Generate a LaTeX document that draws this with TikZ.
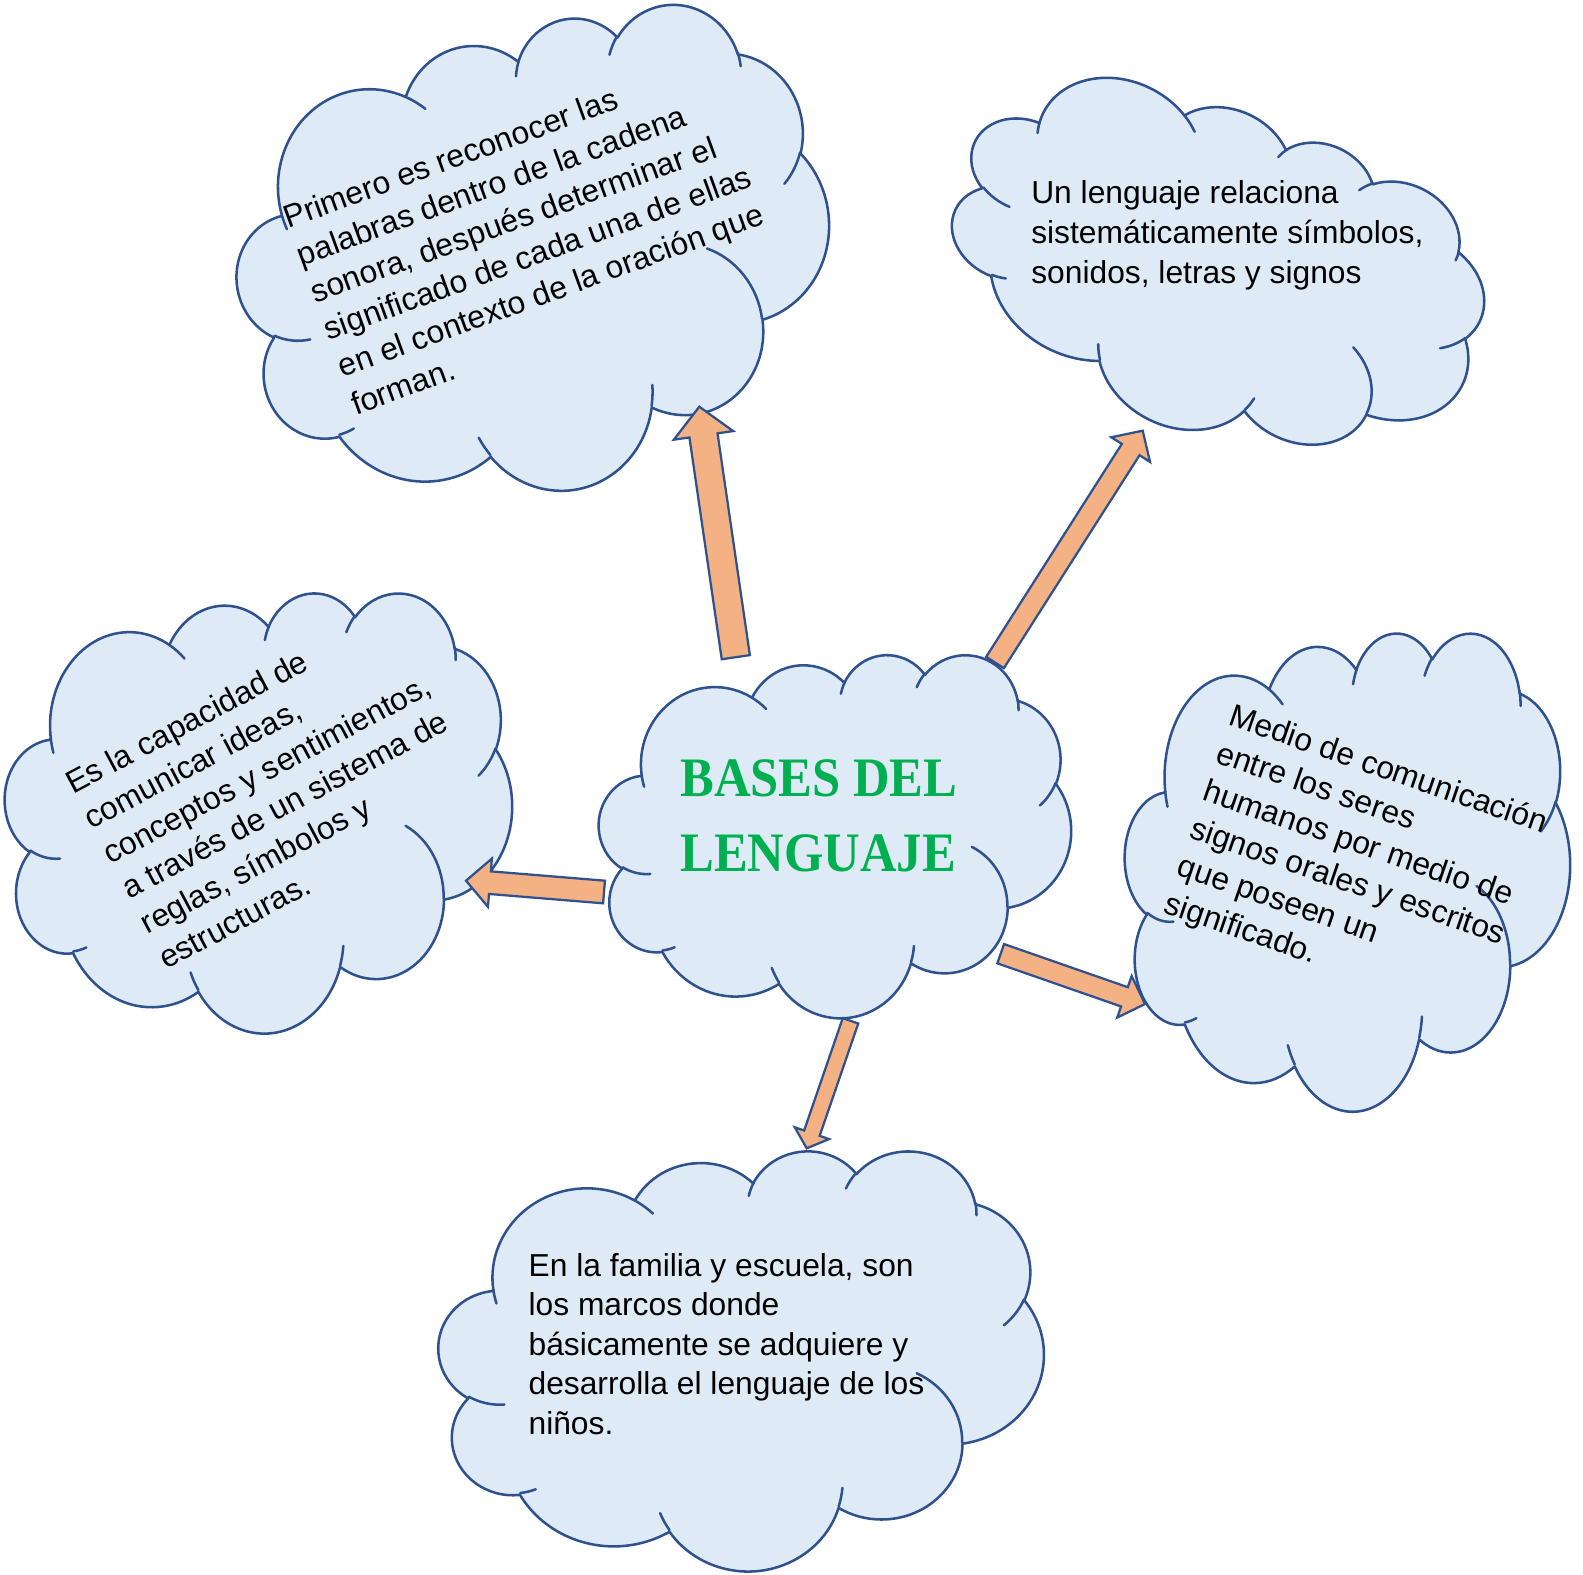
\documentclass[tikz,border=0pt]{standalone}
\usepackage{fontspec}
\setmainfont{Liberation Sans}
\newfontfamily\ttlfont{Liberation Serif}
\usetikzlibrary{calc}
\definecolor{cldfill}{HTML}{DEEBF7}
\definecolor{cldline}{HTML}{2F528F}
\definecolor{arrfill}{HTML}{F4B183}
\definecolor{ttlgreen}{HTML}{00B050}

% elliptical arc with DrawingML (visual) angles
\newcommand\cldarc[4]{arc[x radius=#1, y radius=#2, start angle={vis(#1,#2,#3)}, end angle={vis(#1,#2,#4)}]}

% cloud: centre x, centre y (px, downwards), width, height, rotation
\newcommand\cloudshape[5]{%
  \begin{scope}[shift={(#1,-#2)}, rotate=#5, xscale=#3/43.2, yscale=-#4/43.2, shift={(-21.6,-21.6)}]
    \filldraw[cloudbody] (3.9,14.37)
      \cldarc{6.753}{9.190}{-190.4875}{-66.7070}
      \cldarc{5.333}{7.267}{-144.1024}{-54.1572}
      \cldarc{4.365}{5.945}{-145.8079}{-46.0849}
      \cldarc{4.857}{6.595}{-130.9861}{-13.7444}
      \cldarc{5.333}{7.273}{-78.7089}{30.3180}
      \cldarc{6.775}{9.220}{-46.2673}{84.0017}
      \cldarc{5.785}{7.867}{0.6250}{114.6583}
      \cldarc{6.752}{9.215}{22.4516}{137.6242}
      \cldarc{7.720}{10.543}{66.2426}{141.9536}
      \cldarc{4.360}{5.918}{-274.9421}{-128.2065}
      \cldarc{4.345}{5.945}{-246.8285}{-94.3096} -- cycle;
    \draw[cloudline]
      (4.693,26.177) \cldarc{4.345}{5.945}{86.7420}{113.1715}
      (6.928,34.899) \cldarc{4.360}{5.918}{73.6105}{85.0579}
      (16.478,39.090) \cldarc{6.752}{9.215}{137.6242}{151.7053}
      (28.827,34.751) \cldarc{6.752}{9.215}{6.4533}{22.4516}
      (34.129,22.954) \cldarc{5.785}{7.867}{-70.2924}{0.6250}
      (41.798,15.354) \cldarc{5.333}{7.273}{30.3180}{58.0695}
      (38.324,5.426) \cldarc{4.857}{6.595}{-13.7443}{1.1146}
      (29.078,3.952) \cldarc{4.857}{6.595}{-149.1815}{-130.9861}
      (22.141,4.720) \cldarc{4.365}{5.945}{-163.4943}{-145.8079}
      (14.000,5.192) \cldarc{6.753}{9.190}{-66.7070}{-54.3876}
      (4.127,15.789) \cldarc{6.753}{9.190}{157.6544}{169.5126};
  \end{scope}}

% block arrow: name, tail, tip, half shaft, half head, head length (px)
\newcommand\blockarrow[6]{%
  \coordinate (#1hb) at ($(#3)!#6*0.025cm!(#2)$);
  \draw[arrowbody] ($(#2)!#4*0.025cm!90:(#3)$) -- ($(#1hb)!#4*0.025cm!90:(#3)$)
    -- ($(#1hb)!#5*0.025cm!90:(#3)$) -- (#3)
    -- ($(#1hb)!#5*0.025cm!-90:(#3)$) -- ($(#1hb)!#4*0.025cm!-90:(#3)$)
    -- ($(#2)!#4*0.025cm!-90:(#3)$) -- cycle;}

\begin{document}
\begin{tikzpicture}[x=0.025cm, y=0.025cm,
  declare function={vis(\a,\b,\t)=\t+mod(atan2(\a*sin(\t),\b*cos(\t))-(\t)+540,360)-180;},
  cloudbody/.style={draw=cldline, fill=cldfill, line width=1.8pt, line join=round},
  cloudline/.style={draw=cldline, line width=1.8pt, line cap=round},
  arrowbody/.style={draw=cldline, fill=arrfill, line width=1.6pt, line join=miter},
  txt/.style={font=\fontsize{22.6}{28.2}\selectfont, inner sep=0pt, anchor=base west},
  ttl/.style={font=\ttlfont\bfseries\fontsize{36}{53.3}\selectfont, text=ttlgreen, inner sep=0pt, anchor=base west}]
\fill[white] (0,0) rectangle (1583,-1575);
\useasboundingbox (0,0) rectangle (1583,-1575);

% clouds
\cloudshape{534}{258}{595}{467}{8}
\cloudshape{1216}{269}{544}{327}{-26}
\cloudshape{258.5}{812}{507}{440}{0}
\cloudshape{835}{835.5}{472}{363}{0}
\cloudshape{1347.5}{871}{445}{478}{0}
\cloudshape{741.2}{1360}{605}{420}{0}

% texts
\node[ttl] (ctr) at (680,-796.7) {\begin{tabular}[t]{@{}l@{}}\scalebox{1}[1.1]{BASES DEL}\\\scalebox{1}[1.1]{LENGUAJE}\end{tabular}};
\node[txt, rotate=20] (tl) at (288,-229) {\begin{tabular}[t]{@{}l@{}}Primero es reconocer las\\palabras dentro de la cadena\\sonora, después determinar el\\significado de cada una de ellas\\en el contexto de la oración que\\forman.\end{tabular}};
\node[txt] (tr) at (1031,-204) {\begin{tabular}[t]{@{}l@{}}Un lenguaje relaciona\\sistemáticamente símbolos,\\sonidos, letras y signos\end{tabular}};
\node[txt, rotate=28] (lf) at (73,-795) {\begin{tabular}[t]{@{}l@{}}Es la capacidad de\\comunicar ideas,\\conceptos y sentimientos,\\a través de un sistema de\\reglas, símbolos y\\estructuras.\end{tabular}};
\node[txt, rotate=-19] (rt) at (1227,-724.5) {\begin{tabular}[t]{@{}l@{}}Medio de comunicación\\entre los seres\\humanos por medio de\\signos orales y escritos\\que poseen un\\significado.\end{tabular}};
\node[txt] (bt) at (528.3,-1276) {\begin{tabular}[t]{@{}l@{}}En la familia y escuela, son\\los marcos donde\\básicamente se adquiere y\\desarrolla el lenguaje de los\\niños.\end{tabular}};

% arrow ends
\coordinate (a1s) at (735.8,-657.2);  \coordinate (a1e) at (699.3,-406.7);
\coordinate (a2s) at (995,-662.5);    \coordinate (a2e) at (1142.7,-430.7);
\coordinate (a3s) at (604,-892);      \coordinate (a3e) at (466,-880.7);
\coordinate (a4s) at (1000.7,-953.7); \coordinate (a4e) at (1145,-1004);
\coordinate (a5s) at (850.5,-1020.8); \coordinate (a5e) at (806.7,-1148.3);

\blockarrow{a1}{a1s}{a1e}{14.2}{30}{29}
\blockarrow{a2}{a2s}{a2e}{10.5}{23}{22.4}
\blockarrow{a3}{a3s}{a3e}{11.35}{24.2}{24}
\blockarrow{a4}{a4s}{a4e}{10.2}{22}{21.8}
\blockarrow{a5}{a5s}{a5e}{8.2}{18.15}{16}
\end{tikzpicture}
\end{document}
